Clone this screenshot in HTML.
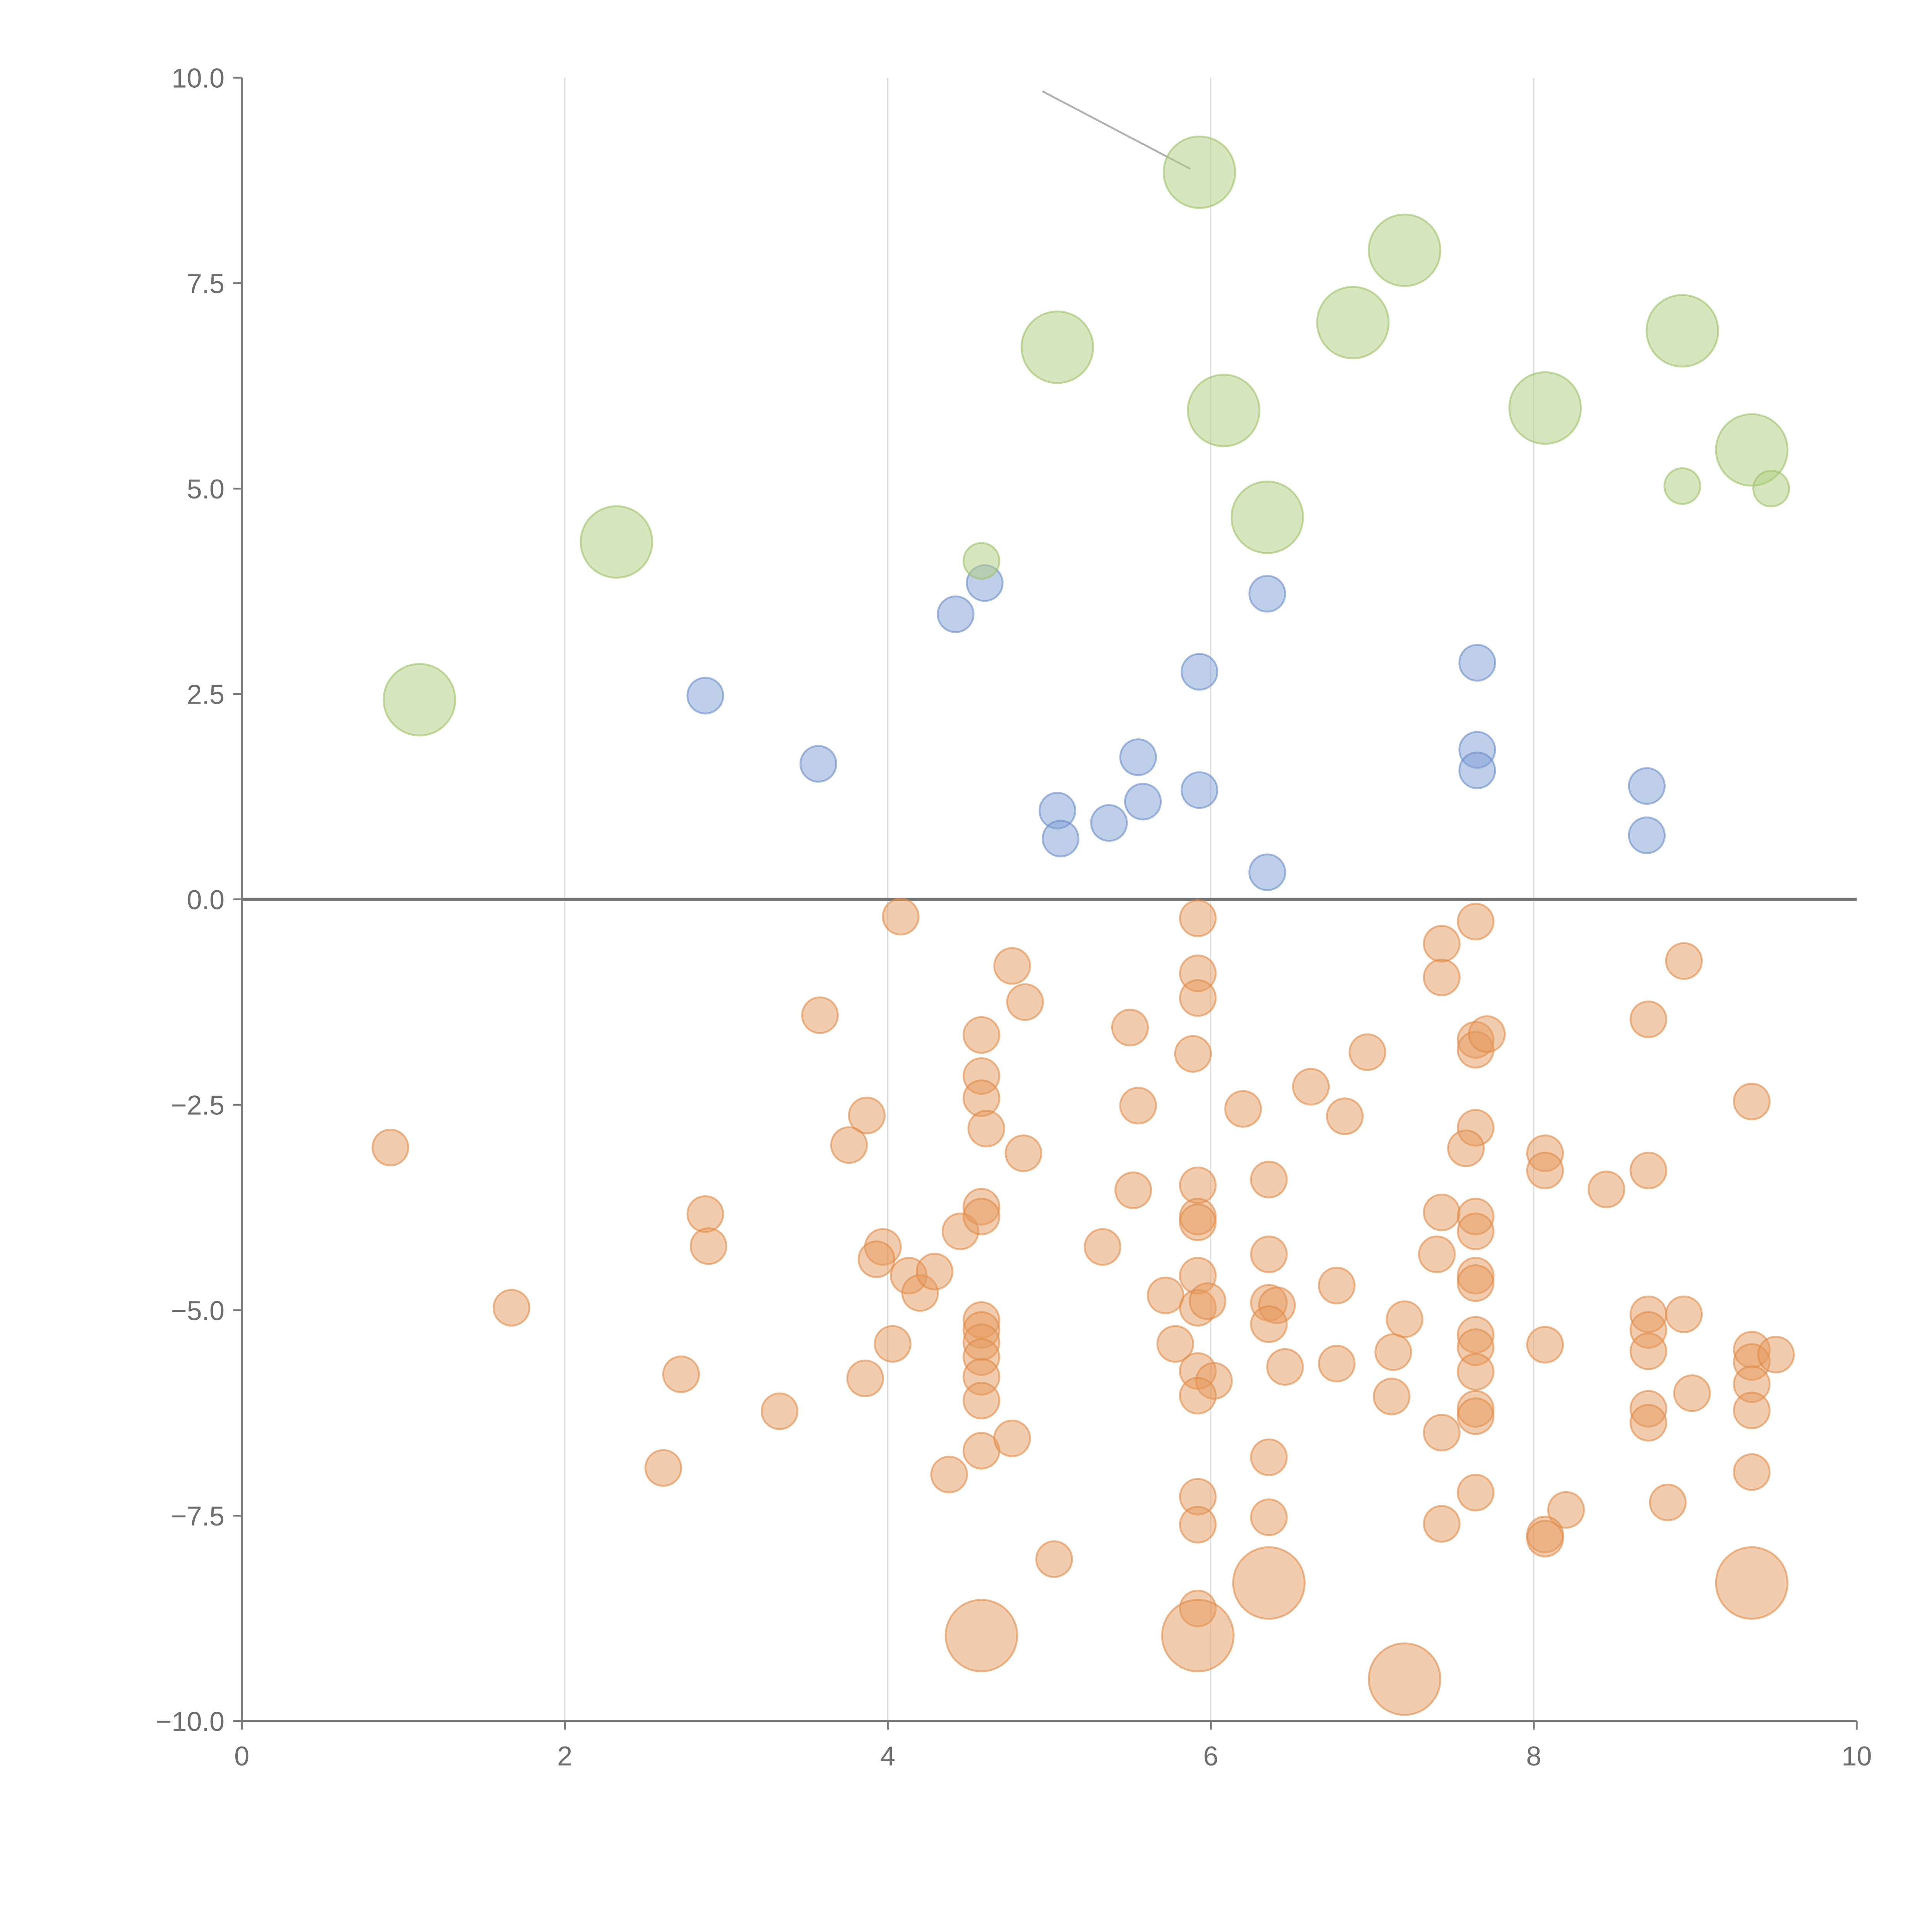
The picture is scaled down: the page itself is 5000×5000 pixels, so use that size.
<!DOCTYPE html>
<html><head><meta charset="utf-8">
<style>html,body{margin:0;padding:0;background:#fff}svg{display:block}</style>
</head><body>
<svg id="chart" width="5000" height="5000" viewBox="0 0 1566 1566" xmlns="http://www.w3.org/2000/svg" font-family="'Liberation Sans', sans-serif">
<g id="grid"></g>
<g id="axes"></g>
<line x1="845" y1="74" x2="965" y2="137" stroke="#b0b0b0" stroke-width="1.5"/>
<g id="marks"></g>
</svg>
<script>
const xTicks=[0,2,4,6,8,10];
const yTicks=[-10,-7.5,-5,-2.5,0,2.5,5,7.5,10];
const greenX=[1.1,2.32,5.05,5.93,6.08,6.35,6.88,7.2,8.07,8.92,9.35,4.58,8.92,9.47];
const greenY=[2.43,4.35,6.72,8.85,5.95,4.65,7.02,7.9,5.98,6.92,5.47,4.12,5.03,5.0];
const greenS=[2,2,2,2,2,2,2,2,2,2,2,1,1,1];
const blueX=[2.87,3.57,4.42,4.6,5.05,5.07,5.37,5.55,5.58,5.93,5.93,6.35,6.35,7.65,7.65,7.65,8.7,8.7];
const blueY=[2.48,1.65,3.47,3.85,1.08,0.74,0.93,1.73,1.19,2.77,1.33,3.72,0.33,2.88,1.82,1.57,1.38,0.78];
const orangeX=[4.08,3.58,4.77,4.85,4.58,4.58,4.58,4.61,4.84,3.87,3.76,0.92,2.87,2.89,1.67,2.72,2.61,3.33,3.86,4.03,3.97,3.93,4.13,4.2,4.29,4.45,4.58,4.58,4.58,4.58,4.58,4.58,4.58,4.58,4.58,4.77,4.38,5.03,5.33,5.5,5.55,5.52,5.72,5.78,5.92,5.92,5.92,5.89,5.92,5.92,5.92,5.92,5.92,5.98,5.92,6.02,5.92,5.92,5.92,5.92,6.2,6.36,6.36,6.36,6.41,6.36,6.46,6.36,6.36,6.62,6.83,6.97,6.78,7.2,7.13,6.78,7.12,7.43,7.43,7.64,7.64,7.64,7.71,7.64,7.58,7.43,7.64,7.64,7.4,7.64,7.64,7.64,7.64,7.64,7.64,7.64,7.43,7.64,7.43,8.07,8.07,8.45,8.07,8.2,8.07,8.07,8.71,8.93,8.71,8.71,8.71,8.71,8.71,8.71,8.83,8.93,8.98,9.35,9.35,9.35,9.35,9.35,9.5,9.35,4.58,5.92,6.36,7.2,9.35];
const orangeY=[-0.21,-1.41,-0.81,-1.25,-1.65,-2.15,-2.42,-2.79,-3.09,-2.63,-2.99,-3.02,-3.83,-4.22,-4.97,-5.78,-6.92,-6.23,-5.83,-5.41,-4.23,-4.38,-4.58,-4.79,-4.53,-4.04,-3.74,-3.86,-5.12,-5.24,-5.39,-5.57,-5.81,-6.1,-6.71,-6.56,-7.0,-8.03,-4.23,-1.56,-2.51,-3.54,-4.82,-5.41,-0.23,-0.9,-1.2,-1.88,-3.48,-3.86,-3.93,-4.58,-4.97,-4.89,-5.74,-5.86,-6.04,-7.27,-7.61,-8.63,-2.55,-3.41,-4.32,-4.91,-4.94,-5.17,-5.69,-6.79,-7.52,-2.28,-2.64,-1.86,-4.7,-5.11,-5.51,-5.65,-6.05,-0.54,-0.95,-0.27,-1.71,-1.83,-1.64,-2.78,-3.03,-3.81,-3.86,-4.04,-4.32,-4.58,-4.67,-5.3,-5.45,-5.75,-6.2,-6.29,-6.49,-7.22,-7.6,-3.09,-3.3,-3.53,-5.42,-7.43,-7.73,-7.78,-1.46,-0.75,-3.3,-5.05,-5.24,-5.5,-6.2,-6.37,-7.34,-5.05,-6.01,-2.46,-5.48,-5.63,-5.9,-6.22,-5.54,-6.97,-8.96,-8.96,-8.32,-9.49,-8.32];
const orangeBigCount=5;

const X0=196,X1=1505,Y0=1395,Y1=63;
const sx=v=>X0+(v-0)/(10-0)*(X1-X0);
const sy=v=>Y0-(v+10)/20*(Y0-Y1);
const NS='http://www.w3.org/2000/svg';
function mk(tag,attrs,parent){const e=document.createElementNS(NS,tag);for(const k in attrs)e.setAttribute(k,attrs[k]);parent.appendChild(e);return e;}
const grid=document.getElementById('grid'),axes=document.getElementById('axes'),marks=document.getElementById('marks');
xTicks.forEach(t=>{
  if(t>0&&t<10){const g=mk('line',{x1:sx(t),x2:sx(t),y1:Y1,y2:Y0,stroke:'#dcdcdc','stroke-width':1},grid);
  
  }
  const tk=mk('line',{x1:sx(t),x2:sx(t),y1:Y0,y2:Y0+7,stroke:'#777','stroke-width':1.5},axes);
  
  
  const tx=mk('text',{x:sx(t),y:Y0+36,'text-anchor':'middle','font-size':22,fill:'#6e6e6e'},axes);
  tx.textContent=String(t);
  
  
});
yTicks.forEach(t=>{
  const tk=mk('line',{x1:X0-7,x2:X0,y1:sy(t),y2:sy(t),stroke:'#777','stroke-width':1.5},axes);
  
  
  const tx=mk('text',{x:X0-14,y:sy(t)+8,'text-anchor':'end','font-size':22,fill:'#6e6e6e'},axes);
  tx.textContent=(t<0?'\u2212':'')+Math.abs(t).toFixed(1);
  
  
});
const xa=mk('line',{x1:X0,x2:X1,y1:Y0,y2:Y0,stroke:'#777','stroke-width':1.5},axes);


const ya=mk('line',{x1:X0,x2:X0,y1:Y1,y2:Y0,stroke:'#777','stroke-width':1.5},axes);


const zl=mk('line',{x1:X0,x2:X1,y1:sy(0),y2:sy(0),stroke:'#777','stroke-width':2.5},axes);



function bubble(x,y,r,fill,stroke,name){
  const c=mk('circle',{cx:sx(x),cy:sy(y),r:r,fill:fill,'fill-opacity':0.5,stroke:stroke,'stroke-opacity':0.6,'stroke-width':1.5},marks);
  
  
}
orangeX.forEach((x,i)=>{const big=i>=orangeX.length-orangeBigCount;bubble(x,orangeY[i],big?29:14.5,'#e59a5e','#e08a48','orange-bubble');});
blueX.forEach((x,i)=>bubble(x,blueY[i],14.5,'#7f9fd6','#6a8cc8','blue-bubble'));
greenX.forEach((x,i)=>bubble(x,greenY[i],greenS[i]===2?29:14.5,'#b0cd7e','#9cbf66','green-bubble'));
</script>
</body></html>
